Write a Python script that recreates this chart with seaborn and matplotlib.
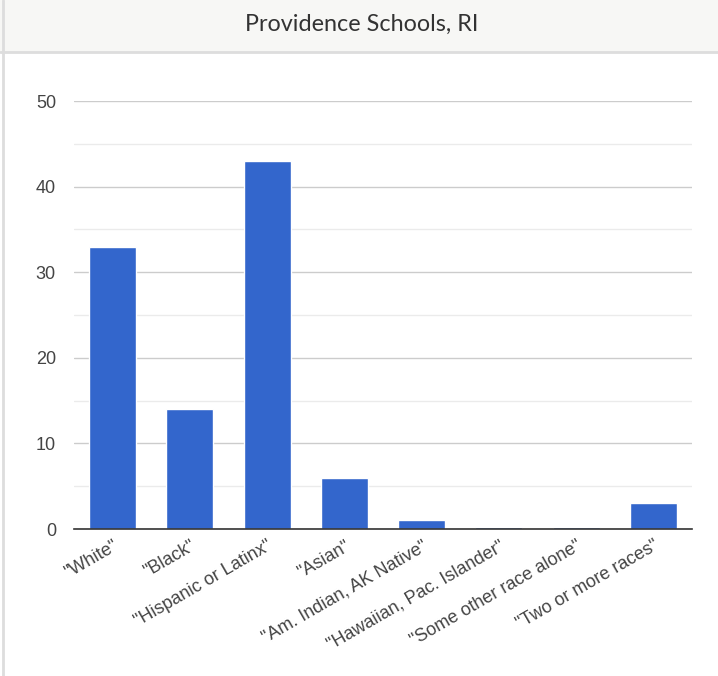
import matplotlib
matplotlib.use("Agg")
import matplotlib.pyplot as plt
import seaborn as sns
import pandas as pd

# Dati (percentuale studenti per gruppo)
categorie = ['"White"', '"Black"', '"Hispanic or Latinx"', '"Asian"',
             '"Am. Indian, AK Native"', '"Hawaiian, Pac. Islander"',
             '"Some other race alone"', '"Two or more races"']
valori = [33, 14, 43, 5.9, 1, 0.2, 0.2, 3]
titolo = "Providence Schools, RI"
tick_y = [0, 10, 20, 30, 40, 50]

df = pd.DataFrame({"gruppo": categorie, "valore": valori})

# Tema seaborn
sns.set_style("white")
plt.rcParams["font.family"] = ["Liberation Sans", "DejaVu Sans"]

# Figura
fig = plt.figure(figsize=(7.18, 6.76), dpi=100)
ax = fig.add_axes([74 / 718, 1 - 529 / 676, 618 / 718, 428 / 676])

# Barre
sns.barplot(data=df, x="gruppo", y="valore", color="#3366cc", width=0.61,
            saturation=1, ax=ax, zorder=3)

# Asse Y e griglia
ax.set_ylim(0, 50)
ax.set_xlim(-0.5, len(categorie) - 0.5)
ax.set_yticks(tick_y)
ax.set_yticks([5, 15, 25, 35, 45], minor=True)
ax.grid(axis="y", which="major", color="#cccccc", linewidth=1, zorder=0)
ax.grid(axis="y", which="minor", color="#ebebeb", linewidth=1, zorder=0)
ax.tick_params(axis="y", which="both", length=0, pad=13, labelsize=13, labelcolor="#444444")
ax.tick_params(axis="x", length=0, pad=6, labelsize=13, labelcolor="#444444")

# Etichette X ruotate
plt.setp(ax.get_xticklabels(), rotation=30, ha="right", va="top", rotation_mode="anchor")
ax.set_xlabel("")
ax.set_ylabel("")

# Bordi
for side in ["top", "right", "left"]:
    ax.spines[side].set_visible(False)
ax.spines["bottom"].set_color("#333333")
ax.spines["bottom"].set_linewidth(1.2)
ax.spines["bottom"].set_zorder(4)

# Intestazione con titolo
fig.patches.append(plt.Rectangle((0, 1 - 52 / 676), 1, 52 / 676, transform=fig.transFigure,
                                 facecolor="#f7f7f5", edgecolor="none", zorder=0))
fig.add_artist(plt.Line2D([0, 1], [1 - 52 / 676, 1 - 52 / 676], transform=fig.transFigure,
                          color="#dddddd", linewidth=2))
fig.add_artist(plt.Line2D([3 / 718, 3 / 718], [0, 1], transform=fig.transFigure,
                          color="#dddddd", linewidth=2))
fig.text(362 / 718, 1 - 24 / 676, titolo, ha="center", va="center",
         fontsize=16.8, color="#333333", family=["Lato", "DejaVu Sans"])

plt.savefig("out.png", dpi=100)
